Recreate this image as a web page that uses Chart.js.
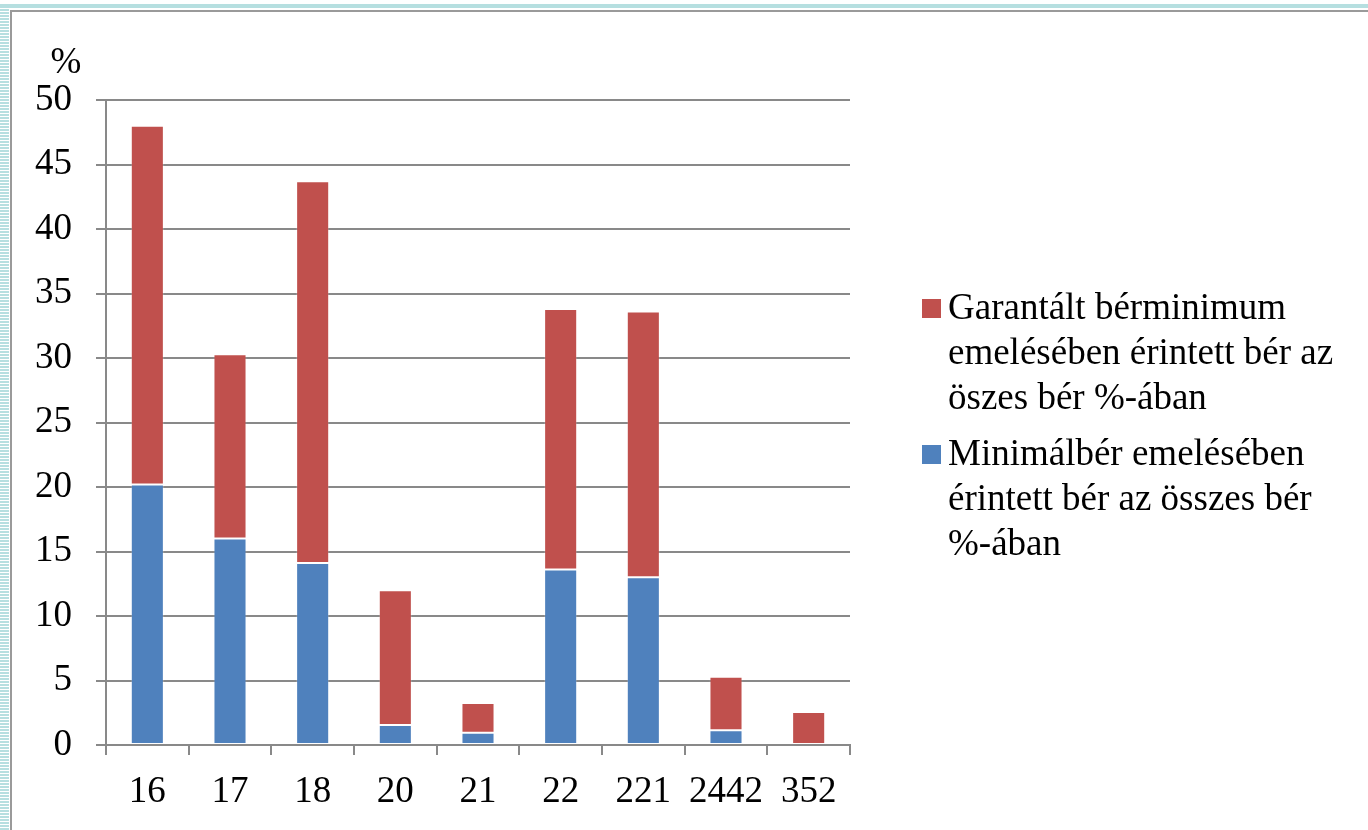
<!DOCTYPE html>
<html>
<head>
<meta charset="utf-8">
<script src="https://cdn.jsdelivr.net/npm/chart.js@4"></script>
<style>
  html, body { margin: 0; padding: 0; background: #ffffff; }
  body { width: 1368px; height: 830px; position: relative; overflow: hidden; }
  #topStripe { position: absolute; left: 0; top: 4px; width: 1368px; height: 4px; background: #b6dfe0; }
  #leftStripes { position: absolute; left: 0; top: 9px; width: 9px; height: 821px;
    background: repeating-linear-gradient(to bottom, #b6dfe0 0px, #b6dfe0 2px, #ffffff 2px, #ffffff 3px); }
  #frameLeft { position: absolute; left: 10px; top: 10px; width: 2px; height: 820px; background: #9a9a9a; }
  #frameTop { position: absolute; left: 10px; top: 10px; width: 1358px; height: 2px; background: #9a9a9a; }
  #wrap { position: absolute; left: 0; top: 0; width: 1368px; height: 830px; }
</style>
</head>
<body>
<div id="topStripe"></div>
<div id="leftStripes"></div>
<div id="frameLeft"></div>
<div id="frameTop"></div>
<div id="wrap"><canvas id="c" width="1368" height="830"></canvas></div>
<script>
const categories = ['16', '17', '18', '20', '21', '22', '221', '2442', '352'];
const minimalberValues = [20.2, 16.0, 14.1, 1.55, 0.95, 13.6, 13.0, 1.15, 0];
const garantaltValues = [27.8, 14.3, 29.6, 10.45, 2.3, 20.2, 20.6, 4.15, 2.55];
const seriesLabels = [
  'Minimálbér emelésében érintett bér az összes bér %-ában',
  'Garantált bérminimum emelésében érintett bér az öszes bér %-ában'
];
const legendLines = [
  ['Garantált bérminimum', 'emelésében érintett bér az', 'öszes bér %-ában'],
  ['Minimálbér emelésében', 'érintett bér az összes bér', '%-ában']
];
const yAxisUnit = '%';

const BLUE = '#4f81bd';
const RED = '#c0504d';
const GRID = '#898989';
const FONT = "'Liberation Serif', 'Times New Roman', serif";

const extraText = {
  id: 'extraText',
  afterDraw(chart) {
    const ctx = chart.ctx;
    ctx.save();
    ctx.fillStyle = '#000';
    ctx.font = '37px ' + FONT;
    ctx.textAlign = 'center';
    ctx.textBaseline = 'alphabetic';
    ctx.fillText(yAxisUnit, 66, 73);
    // legend
    const colors = [RED, BLUE];
    const baselines = [[319, 364, 409], [465, 510, 555]];
    ctx.font = '37px ' + FONT;
    ctx.textAlign = 'left';
    for (let i = 0; i < legendLines.length; i++) {
      ctx.fillStyle = colors[i];
      ctx.fillRect(922, baselines[i][0] - 20, 19, 19);
      ctx.fillStyle = '#000';
      legendLines[i].forEach((line, j) => ctx.fillText(line, 948, baselines[i][j]));
    }
    ctx.restore();
  }
};

new Chart(document.getElementById('c'), {
  type: 'bar',
  data: {
    labels: categories,
    datasets: [
      { label: seriesLabels[0], data: minimalberValues, backgroundColor: BLUE,
        borderColor: 'rgba(255,255,255,0.2)', borderWidth: 1, borderSkipped: false },
      { label: seriesLabels[1], data: garantaltValues, backgroundColor: RED,
        borderColor: 'rgba(255,255,255,0.2)', borderWidth: 1, borderSkipped: false }
    ]
  },
  options: {
    responsive: false,
    animation: false,
    layout: { padding: { left: 0, top: 100, right: 518, bottom: 0 } },
    datasets: { bar: { barPercentage: 0.4, categoryPercentage: 1.0 } },
    plugins: { legend: { display: false }, tooltip: { enabled: false } },
    scales: {
      x: {
        stacked: true,
        afterFit: s => { s.height = 85; },
        grid: { offset: true, drawOnChartArea: false, drawTicks: true, tickLength: 10, color: GRID, lineWidth: 2 },
        border: { display: true, color: GRID, width: 2 },
        ticks: { color: '#000', font: { family: FONT, size: 37 }, padding: 15, maxRotation: 0, autoSkip: false }
      },
      y: {
        stacked: true,
        min: 0, max: 50,
        afterFit: s => { s.width = 106; },
        grid: { color: GRID, lineWidth: 2, tickLength: 10, drawTicks: true },
        border: { display: true, color: GRID, width: 2 },
        ticks: { stepSize: 5, color: '#000', font: { family: FONT, size: 37 }, padding: 24 }
      }
    }
  },
  plugins: [extraText]
});
</script>
</body>
</html>
